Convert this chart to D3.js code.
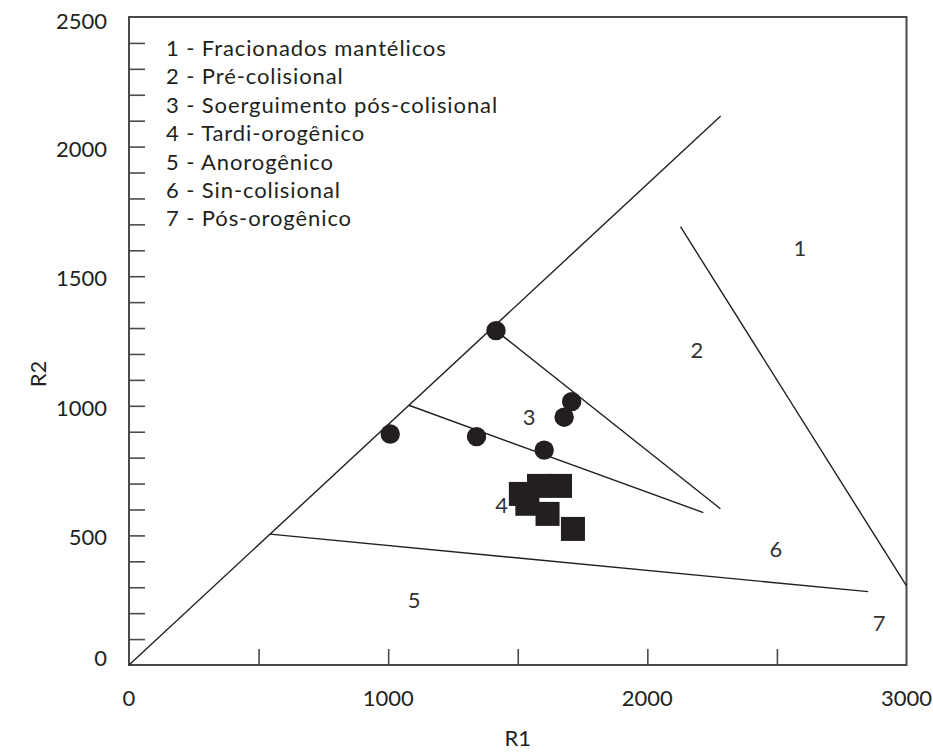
<!DOCTYPE html>
<html>
<head>
<meta charset="utf-8">
<script src="https://cdn.jsdelivr.net/npm/d3@7"></script>
<style>
  html, body { margin: 0; padding: 0; background: #fff; }
  svg { display: block; font-family: Lato, "Open Sans", sans-serif; }
</style>
</head>
<body>
<svg id="chart" width="933" height="752"></svg>
<script>
// R1-R2 discrimination diagram (De la Roche / Batchelor & Bowden fields)

// Axis tick labels
const r1Labels = [0, 1000, 2000, 3000];
const r1Ticks = [500, 1000, 1500, 2000, 2500];
const r2Labels = [0, 500, 1000, 1500, 2000, 2500];

// Field boundaries, as [R1, R2] segment end points
const boundaryStart = [[0, 0], [2128, 1691], [1416, 1290], [1080, 1002], [544, 505]];
const boundaryEnd   = [[2283, 2118], [3000, 305], [2282, 603], [2216, 588], [2852, 283]];

// Field numbers placed inside the diagram
const fieldIds = ["1", "2", "3", "4", "5", "6", "7"];
const fieldR1 = [2589, 2191, 1544, 1438, 1100, 2496, 2894];
const fieldR2 = [1609, 1215, 958, 617, 251, 448, 161];

// Legend entries
const legendItems = [
  "1 - Fracionados mantélicos",
  "2 - Pré-colisional",
  "3 - Soerguimento pós-colisional",
  "4 - Tardi-orogênico",
  "5 - Anorogênico",
  "6 - Sin-colisional",
  "7 - Pós-orogênico"
];

// Samples plotted as circles
const circleR1 = [1416, 1708, 1679, 1008, 1341, 1602];
const circleR2 = [1290, 1016, 956, 891, 881, 829];

// Samples plotted as squares
const squareR1 = [1582, 1663, 1512, 1537, 1615, 1713];
const squareR2 = [691, 691, 660, 622, 583, 525];

const ink = "#231f20";
const frameColor = "#4a4a4a";

const svg = d3.select("#chart");
const x = d3.scaleLinear().domain([0, 3000]).range([129, 906.5]);
const y = d3.scaleLinear().domain([0, 2500]).range([665, 17]);

// Minor ticks on R2 every 100, drawn inward
const yAxis = d3.axisRight(y).tickValues(y.ticks(25).filter(v => v > 0 && v < 2500))
  .tickSize(16).tickFormat("");
const gy = svg.append("g").attr("transform", `translate(${x(0)},0)`).call(yAxis);
gy.select(".domain").remove();
gy.selectAll(".tick line").attr("stroke", frameColor).attr("stroke-width", 1.6);

// R1 ticks, drawn upward inside the frame
const xAxis = d3.axisTop(x).tickValues(r1Ticks).tickSize(16).tickFormat("");
const gx = svg.append("g").attr("transform", `translate(0,${y(0)})`).call(xAxis);
gx.select(".domain").remove();
gx.selectAll(".tick line").attr("stroke", frameColor).attr("stroke-width", 1.6);

// Frame
svg.append("rect")
  .attr("x", x(0)).attr("y", y(2500))
  .attr("width", x(3000) - x(0)).attr("height", y(0) - y(2500))
  .attr("fill", "none").attr("stroke", frameColor).attr("stroke-width", 2);

// Tick labels
svg.append("g").selectAll("text").data(r1Labels).join("text")
  .attr("x", d => x(d)).attr("y", 706)
  .attr("text-anchor", "middle")
  .attr("font-size", 22).attr("fill", ink)
  .text(d => d);

svg.append("g").selectAll("text").data(r2Labels).join("text")
  .attr("x", 107)
  .attr("y", d => y(d) + (d === 0 ? -7 : (d === 2500 ? 4 : 2)))
  .attr("dy", "0.36em")
  .attr("text-anchor", "end")
  .attr("font-size", 22).attr("fill", ink)
  .text(d => d);

// Axis titles
svg.append("text")
  .attr("x", x(1500)).attr("y", 746)
  .attr("text-anchor", "middle").attr("font-size", 22).attr("fill", ink)
  .text("R1");
svg.append("text")
  .attr("transform", `translate(46,${374}) rotate(-90)`)
  .attr("text-anchor", "middle").attr("font-size", 22).attr("fill", ink)
  .text("R2");

// Field boundaries
svg.append("g").selectAll("line").data(boundaryStart).join("line")
  .attr("x1", d => x(d[0])).attr("y1", d => y(d[1]))
  .attr("x2", (d, i) => x(boundaryEnd[i][0])).attr("y2", (d, i) => y(boundaryEnd[i][1]))
  .attr("stroke", ink).attr("stroke-width", 1.4);

// Field numbers
svg.append("g").selectAll("text").data(fieldIds).join("text")
  .attr("x", (d, i) => x(fieldR1[i])).attr("y", (d, i) => y(fieldR2[i]))
  .attr("dy", "0.36em").attr("text-anchor", "middle")
  .attr("font-size", 22).attr("fill", "#333")
  .text(d => d);

// Legend
svg.append("g").selectAll("text").data(legendItems).join("text")
  .attr("x", 166).attr("y", (d, i) => 56 + i * 28.4)
  .attr("font-size", 22).attr("letter-spacing", 0.9).attr("fill", ink)
  .text(d => d);

// Circle samples
svg.append("g").selectAll("circle").data(circleR1).join("circle")
  .attr("cx", d => x(d)).attr("cy", (d, i) => y(circleR2[i]))
  .attr("r", 9.7).attr("fill", ink);

// Square samples
const sq = 24;
svg.append("g").selectAll("rect").data(squareR1).join("rect")
  .attr("x", d => x(d) - sq / 2).attr("y", (d, i) => y(squareR2[i]) - sq / 2)
  .attr("width", sq).attr("height", sq).attr("fill", ink);
</script>
</body>
</html>
